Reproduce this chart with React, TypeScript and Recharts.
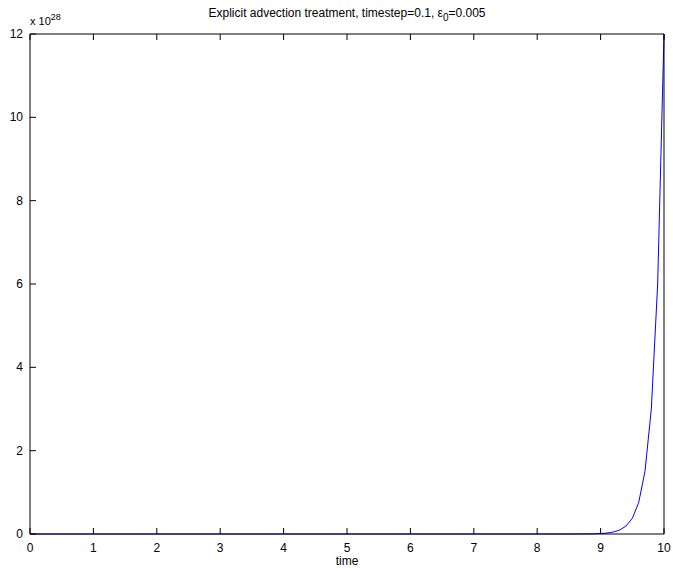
import { Line, LineChart, XAxis, YAxis } from 'recharts';

// time samples (the flat part is sampled sparsely)
const times = [
  0, 1, 2, 3, 4, 5, 6, 7, 8, 8.5, 8.6, 8.7, 8.8, 8.9, 9, 9.1, 9.2, 9.3, 9.4, 9.5, 9.6, 9.7, 9.8,
  9.9, 10,
];
// amplitude in units of 1e28
const amplitude = [
  0, 0, 0, 0, 0, 0, 0, 0, 0, 0.0004, 0.0007, 0.0015, 0.003, 0.006, 0.012, 0.023, 0.047, 0.094,
  0.19, 0.375, 0.75, 1.5, 3, 6, 12,
];
const xTicks = [0, 1, 2, 3, 4, 5, 6, 7, 8, 9, 10];
const yTicks = [0, 2, 4, 6, 8, 10, 12];

const data = times.map((t, i) => ({ t, v: amplitude[i] }));

const font = '"Liberation Sans", Arial, Helvetica, sans-serif';
const TICK = 6;

// matlab style: tick marks point into the plot box
function BottomTick({ x, y, payload }: any) {
  return (
    <g>
      <line x1={x} x2={x} y1={y} y2={y - TICK} stroke="#000" />
      <text x={x} y={y + 18} textAnchor="middle" fontSize={12} fill="#000">
        {payload.value}
      </text>
    </g>
  );
}

function TopTick({ x, y }: any) {
  return <line x1={x} x2={x} y1={y} y2={y + TICK} stroke="#000" />;
}

function LeftTick({ x, y, payload }: any) {
  return (
    <g>
      <line x1={x} x2={x + TICK} y1={y} y2={y} stroke="#000" />
      <text x={x - 7} y={y + 4} textAnchor="end" fontSize={12} fill="#000">
        {payload.value}
      </text>
    </g>
  );
}

function RightTick({ x, y }: any) {
  return <line x1={x} x2={x - TICK} y1={y} y2={y} stroke="#000" />;
}

export default function App() {
  return (
    <div style={{ padding: '8px 0 0 8px', width: 665, height: 563, background: '#fff' }}>
      <style>{'body{margin:0}'}</style>
      <div style={{ position: 'relative', width: 665, height: 563, fontFamily: font }}>
        <div
          style={{
            position: 'absolute',
            left: 0,
            width: 678,
            top: -2,
            textAlign: 'center',
            fontSize: 12,
            color: '#000',
            whiteSpace: 'nowrap',
          }}
        >
          Explicit advection treatment, timestep=0.1, ε
          <sub style={{ fontSize: 10, verticalAlign: -4 }}>0</sub>=0.005
        </div>
        <div style={{ position: 'absolute', left: 22, top: 4, fontSize: 11, color: '#000' }}>
          x 10<sup style={{ fontSize: 9, verticalAlign: 5 }}>28</sup>
        </div>
        <LineChart
          width={665}
          height={563}
          data={data}
          margin={{ top: 25, right: 8, bottom: 0, left: 0 }}
          style={{ fontFamily: font, overflow: 'visible' }}
        >
          <XAxis
            xAxisId="b"
            dataKey="t"
            type="number"
            domain={[0, 10]}
            ticks={xTicks}
            interval={0}
            height={37}
            stroke="#000"
            tickLine={false}
            tickSize={0}
            tickMargin={0}
            tick={<BottomTick />}
            label={{ value: 'time', position: 'insideBottom', offset: 6, fill: '#000', fontSize: 12 }}
          />
          <XAxis
            xAxisId="t"
            orientation="top"
            dataKey="t"
            type="number"
            domain={[0, 10]}
            ticks={xTicks}
            interval={0}
            height={1}
            stroke="#000"
            tickLine={false}
            tickSize={0}
            tickMargin={0}
            tick={<TopTick />}
          />
          <YAxis
            yAxisId="l"
            type="number"
            domain={[0, 12]}
            ticks={yTicks}
            interval={0}
            width={22}
            stroke="#000"
            tickLine={false}
            tickSize={0}
            tickMargin={0}
            tick={<LeftTick />}
          />
          <YAxis
            yAxisId="r"
            orientation="right"
            type="number"
            domain={[0, 12]}
            ticks={yTicks}
            interval={0}
            width={1}
            stroke="#000"
            tickLine={false}
            tickSize={0}
            tickMargin={0}
            tick={<RightTick />}
          />
          <Line
            xAxisId="b"
            yAxisId="l"
            dataKey="v"
            type="linear"
            stroke="#0000ff"
            strokeWidth={1}
            dot={false}
            isAnimationActive={false}
          />
        </LineChart>
      </div>
    </div>
  );
}
